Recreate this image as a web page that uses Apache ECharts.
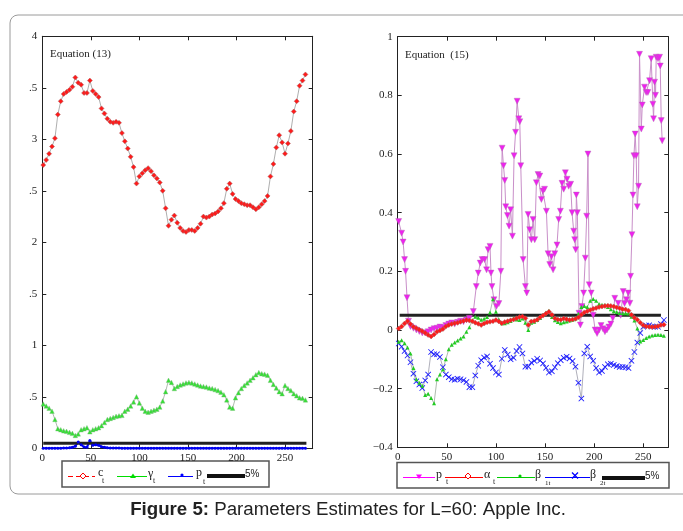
<!DOCTYPE html>
<html>
<head>
<meta charset="utf-8">
<script src="https://cdn.jsdelivr.net/npm/echarts@6/dist/echarts.min.js"></script>
<style>
  html, body { margin: 0; padding: 0; background: #fff; }
  #chart { width: 683px; height: 531px; }
</style>
</head>
<body>
<div id="chart"></div>
<script>
// Observation days shared by the sampled series (t = 1, 4, 7, ..., 271)
const days = [];
for (let d = 1; d <= 271; d += 3) days.push(d);

// Equation (13): c_t, gamma_t, p_t
const cT = [
  2.75, 2.80, 2.86, 2.93, 3.01, 3.24, 3.37, 3.44, 3.46, 3.48,
  3.51, 3.60, 3.55, 3.53, 3.45, 3.45, 3.57, 3.47, 3.44, 3.41,
  3.30, 3.25, 3.20, 3.17, 3.16, 3.17, 3.16, 3.06, 2.98, 2.91,
  2.83, 2.73, 2.57, 2.64, 2.67, 2.70, 2.72, 2.69, 2.65, 2.62,
  2.58, 2.50, 2.33, 2.16, 2.22, 2.26, 2.19, 2.14, 2.11, 2.10,
  2.12, 2.12, 2.11, 2.14, 2.18, 2.25, 2.24, 2.25, 2.27, 2.28,
  2.30, 2.33, 2.38, 2.52, 2.57, 2.47, 2.42, 2.40, 2.38, 2.37,
  2.36, 2.36, 2.34, 2.32, 2.34, 2.37, 2.40, 2.45, 2.64, 2.76,
  2.92, 3.04, 2.97, 2.86, 2.96, 3.08, 3.27, 3.37, 3.52, 3.57,
  3.63
];
const gammaT = [
  0.43, 0.41, 0.39, 0.36, 0.28, 0.19, 0.18, 0.17, 0.165, 0.155,
  0.145, 0.125, 0.14, 0.18, 0.19, 0.20, 0.16, 0.18, 0.19, 0.20,
  0.22, 0.25, 0.28, 0.29, 0.30, 0.31, 0.315, 0.32, 0.36, 0.38,
  0.41, 0.45, 0.50, 0.44, 0.39, 0.36, 0.35, 0.36, 0.37, 0.38,
  0.40, 0.46, 0.55, 0.66, 0.64, 0.58, 0.60, 0.615, 0.625, 0.635,
  0.64, 0.635, 0.625, 0.615, 0.605, 0.60, 0.595, 0.585, 0.58, 0.57,
  0.56, 0.545, 0.52, 0.47, 0.40, 0.39, 0.49, 0.54, 0.58, 0.61,
  0.635, 0.66, 0.685, 0.715, 0.735, 0.725, 0.72, 0.71, 0.66, 0.62,
  0.585, 0.55, 0.53, 0.61, 0.58, 0.56, 0.53, 0.51, 0.49, 0.485,
  0.47
];
const pLeft = [
  0, 0, 0, 0, 0, 0, 0, 0.003, 0.004, 0.006,
  0.01, 0.02, 0.06, 0.035, 0.012, 0.01, 0.075, 0.03, 0.035, 0.03,
  0.015, 0.01, 0.006, 0.004, 0.003, 0.002, 0.002, 0.001, 0, 0,
  0, 0, 0, 0, 0, 0, 0, 0, 0, 0,
  0, 0, 0, 0, 0, 0, 0, 0, 0, 0,
  0, 0, 0, 0, 0, 0, 0, 0, 0, 0,
  0, 0, 0, 0, 0, 0, 0, 0, 0, 0,
  0, 0, 0, 0, 0, 0, 0, 0, 0, 0,
  0, 0, 0, 0, 0, 0, 0, 0, 0, 0,
  0
];

// Equation (15): alpha_t, beta_1t, beta_2t on the shared days, p_t as [day, value]
const alphaT = [
  0.005, 0.012, 0.022, 0.030, 0.020, 0.011, 0.006, 0.001, -0.004, -0.010,
  -0.017, -0.022, -0.015, -0.006, -0.002, 0.003, 0.012, 0.017, 0.020, 0.023,
  0.025, 0.028, 0.031, 0.034, 0.032, 0.030, 0.025, 0.021, 0.017, 0.022,
  0.026, 0.028, 0.030, 0.034, 0.029, 0.023, 0.027, 0.030, 0.033, 0.036,
  0.040, 0.044, 0.046, 0.040, 0.017, 0.029, 0.031, 0.035, 0.043, 0.049,
  0.056, 0.062, 0.052, 0.040, 0.036, 0.035, 0.039, 0.037, 0.034, 0.036,
  0.038, 0.043, 0.052, 0.060, 0.064, 0.068, 0.072, 0.075, 0.078, 0.080,
  0.082, 0.083, 0.082, 0.080, 0.077, 0.074, 0.071, 0.070, 0.066, 0.052,
  0.042, 0.035, 0.025, 0.016, 0.012, 0.011, 0.010, 0.011, 0.013, 0.017,
  0.018
];
const beta1T = [
  -0.04, -0.035, -0.045, -0.06, -0.08, -0.13, -0.168, -0.18, -0.19, -0.222,
  -0.217, -0.232, -0.25, -0.168, -0.152, -0.135, -0.10, -0.066, -0.05, -0.043,
  -0.036, -0.029, -0.022, -0.006, 0.009, 0.032, 0.045, 0.042, 0.035, 0.038,
  0.044, 0.06, 0.105, 0.062, 0.036, 0.023, 0.023, 0.026, 0.031, 0.04,
  0.036, 0.034, 0.039, 0.025, 0.0, 0.025, 0.028, 0.034, 0.041, 0.051,
  0.06, 0.066, 0.044, 0.033, 0.027, 0.023, 0.026, 0.029, 0.032, 0.035,
  0.039, 0.055, 0.078, 0.082, 0.078, 0.100, 0.106, 0.100, 0.089, 0.086,
  0.085, 0.078, 0.071, 0.064, 0.061, 0.058, 0.057, 0.057, 0.056, 0.045,
  0.032, 0.005, -0.039, -0.034, -0.027, -0.022, -0.019, -0.017, -0.016, -0.017,
  -0.02
];
const beta2T = [
  -0.046, -0.057, -0.072, -0.087, -0.11, -0.149, -0.175, -0.186, -0.198, -0.172,
  -0.152, -0.075, -0.083, -0.083, -0.092, -0.127, -0.152, -0.161, -0.168, -0.170,
  -0.166, -0.168, -0.171, -0.177, -0.195, -0.195, -0.155, -0.122, -0.103, -0.094,
  -0.09, -0.115, -0.13, -0.145, -0.152, -0.098, -0.068, -0.084, -0.10, -0.095,
  -0.072, -0.058, -0.08, -0.125, -0.125, -0.111, -0.105, -0.098, -0.104, -0.114,
  -0.129, -0.145, -0.141, -0.127, -0.113, -0.103, -0.095, -0.091, -0.097, -0.106,
  -0.125, -0.18, -0.234, -0.08, -0.057, -0.09, -0.105, -0.13, -0.145, -0.14,
  -0.126, -0.117, -0.115, -0.119, -0.123, -0.126, -0.126, -0.127, -0.13, -0.105,
  -0.075, -0.043, -0.01, 0.011, 0.015, 0.016, 0.012, 0.011, 0.011, 0.02,
  0.034
];
const pRight = [
  [1, 0.37], [4, 0.33], [5.5, 0.30], [7, 0.24], [8, 0.20], [9.5, 0.11], [11, 0.03], [13, 0.012],
  [16, 0.006], [19, 0.0], [22, -0.005], [25, -0.01], [28, -0.01], [31, -0.006], [34, 0.0], [37, 0.004],
  [40, 0.006], [43, 0.01], [46, 0.008], [49, 0.015], [52, 0.02], [55, 0.024], [58, 0.02], [61, 0.026],
  [64, 0.03], [67, 0.028], [70, 0.034], [73, 0.04], [77, 0.063], [80, 0.148], [82, 0.194], [84, 0.228],
  [86, 0.24], [88.5, 0.24], [90.5, 0.205], [92, 0.274], [94, 0.285], [95, 0.194], [96, 0.148], [98, 0.103],
  [100.5, 0.08], [103, 0.09], [105, 0.20], [106.3, 0.62], [107.7, 0.56], [109, 0.51], [110, 0.42], [111.7, 0.39],
  [113.4, 0.354], [115, 0.41], [116.8, 0.32], [118.5, 0.594], [120, 0.674], [121.6, 0.78], [123.3, 0.72], [124.3, 0.71],
  [125.3, 0.56], [127.7, 0.24], [130, 0.148], [131.4, 0.126], [132.8, 0.394], [134.4, 0.342], [136.1, 0.308], [137.8, 0.377],
  [139.5, 0.308], [141.2, 0.502], [142.9, 0.53], [144.7, 0.525], [146.3, 0.445], [147.8, 0.474], [149.5, 0.48], [151.4, 0.405],
  [153.1, 0.26], [154.8, 0.223], [156.5, 0.25], [158.2, 0.205], [159.9, 0.26], [162.2, 0.29], [163.9, 0.377], [165.6, 0.405],
  [167.3, 0.50], [169, 0.48], [170.7, 0.536], [172.4, 0.514], [174.1, 0.49], [176.1, 0.497], [177.5, 0.40], [179.2, 0.337],
  [180.2, 0.308], [181.2, 0.274], [181.9, 0.46], [182.9, 0.40], [184.6, 0.057], [186, 0.017], [187.6, 0.08], [189.3, 0.126],
  [191, 0.245], [192.4, 0.388], [193.7, 0.60], [195, 0.154], [197, 0.126], [199, 0.05], [201, 0.0], [203, -0.012],
  [205, 0.0], [207, 0.015], [209, 0.004], [211, -0.006], [213, 0.0], [215, 0.01], [217, 0.02], [219, 0.04],
  [221, 0.108], [224.5, 0.091], [227, 0.05], [229.6, 0.131], [231, 0.09], [233, 0.103], [234.7, 0.126], [236.4, 0.091],
  [237.1, 0.183], [238.5, 0.325], [239.5, 0.46], [240.5, 0.594], [241.8, 0.668], [242.8, 0.594], [243.9, 0.42], [245.2, 0.49],
  [246.2, 0.94], [248, 0.685], [249, 0.767], [251.3, 0.828], [253, 0.81], [254.7, 0.81], [256.4, 0.85], [258.1, 0.925],
  [259.8, 0.77], [260.5, 0.72], [261.5, 0.845], [262.5, 0.80], [263.2, 0.93], [265, 0.925], [266.6, 0.93], [267.3, 0.90],
  [268.3, 0.714], [269.3, 0.645]
];

// 5% reference level and the day span it is drawn over in each panel
const fivePct = 0.05;
const fivePctSpanLeft = [1, 272];
const fivePctSpanRight = [2, 268];

// Tick values
const xTicks = [0, 50, 100, 150, 200, 250];
const leftYTicks = [0, 0.5, 1, 1.5, 2, 2.5, 3, 3.5, 4];
const rightYTicks = [-0.4, -0.2, 0, 0.2, 0.4, 0.6, 0.8, 1];

const serif = 'Liberation Serif';
const ink = '#222';

function pairs(vals) { return days.map((d, i) => [d, vals[i]]); }
function span(s) { return s.map(d => [d, fivePct]); }

function xAxisOf(grid, max, pos) {
  return {
    type: 'value', gridIndex: grid, min: 0, max: max, position: pos,
    axisLine: { show: true, onZero: false, lineStyle: { color: ink, width: 1 } },
    axisTick: { show: true, inside: true, length: 4, customValues: xTicks, lineStyle: { color: ink } },
    axisLabel: {
      show: pos === 'bottom', customValues: xTicks, margin: 4,
      fontFamily: serif, fontSize: 11, color: ink
    },
    splitLine: { show: false }
  };
}
function yAxisOf(grid, min, max, ticks, pos, fmt) {
  return {
    type: 'value', gridIndex: grid, min: min, max: max, position: pos,
    axisLine: { show: true, onZero: false, lineStyle: { color: ink, width: 1 } },
    axisTick: { show: true, inside: true, length: 4, customValues: ticks, lineStyle: { color: ink } },
    axisLabel: {
      show: pos === 'left', customValues: ticks, margin: 5, formatter: fmt,
      fontFamily: serif, fontSize: 11, color: ink
    },
    splitLine: { show: false }
  };
}

const xMarkPath = 'path://M0,1L1,0L5,4L9,0L10,1L6,5L10,9L9,10L5,6L1,10L0,9L4,5Z';

function lineSeries(xi, yi, data, opts) {
  return Object.assign({
    type: 'line', xAxisIndex: xi, yAxisIndex: yi, data: data,
    showSymbol: true, showAllSymbol: true, silent: true,
    emphasis: { disabled: true }, animation: false
  }, opts);
}

// Legend pieces drawn as plain shapes
function seg(x1, y1, x2, y2, color, width, dash) {
  return { type: 'line', silent: true, shape: { x1, y1, x2, y2 },
    style: { stroke: color, lineWidth: width, lineDash: dash || null } };
}
function txt(x, y, s, size, font) {
  return { type: 'text', silent: true,
    style: { x, y, text: s, fill: ink, font: size + 'px "' + (font || serif) + '"', verticalAlign: 'middle' } };
}
function poly(points, fill, stroke) {
  return { type: 'polygon', silent: true, shape: { points },
    style: { fill: fill, stroke: stroke || null, lineWidth: 1 } };
}
function dot(cx, cy, r, color) {
  return { type: 'circle', silent: true, shape: { cx, cy, r }, style: { fill: color } };
}

const graphics = [
  // outer frame
  { type: 'rect', silent: true, shape: { x: 10, y: 15, width: 690, height: 479, r: 8 },
    style: { fill: 'none', stroke: '#9a9a9a', lineWidth: 1 } },
  txt(50, 54, 'Equation (13)', 11),
  txt(405, 55, 'Equation  (15)', 11),

  // left legend
  { type: 'rect', silent: true, shape: { x: 62, y: 461, width: 207, height: 26 },
    style: { fill: '#fff', stroke: '#555', lineWidth: 1.5 } },
  seg(68, 476.5, 95, 476.5, '#ff0000', 1, [5, 3]),
  poly([[83, 473], [86, 476], [83, 479], [80, 476]], '#fff', '#ff0000'),
  txt(98, 473, 'c', 12), txt(102, 481, 't', 8),
  seg(117, 476.5, 147, 476.5, '#00dd00', 1),
  poly([[133, 473.5], [136, 478], [130, 478]], '#00dd00'),
  txt(148, 474, 'γ', 12), txt(153, 481, 't', 8),
  seg(168, 476.5, 193, 476.5, '#0000ff', 1),
  dot(182, 475, 1.6, '#0000ff'),
  txt(196, 473, 'p', 12), txt(203, 482, 't', 8),
  seg(207, 476, 245, 476, '#111', 4),
  txt(245, 474, '5%', 10, 'Liberation Sans'),

  // right legend
  { type: 'rect', silent: true, shape: { x: 397, y: 462.5, width: 272, height: 25.5 },
    style: { fill: '#fff', stroke: '#555', lineWidth: 1.5 } },
  seg(403, 477.5, 435, 477.5, '#ff00ff', 1),
  poly([[416, 474.5], [422, 474.5], [419, 479]], '#ff00ff'),
  txt(436, 475, 'p', 12), txt(446, 482, 't', 8),
  seg(445, 477.5, 483, 477.5, '#ff0000', 1),
  poly([[468, 473], [471, 476], [468, 479], [465, 476]], '#fff', '#ff0000'),
  txt(484, 475, 'α', 12), txt(493, 482, 't', 8),
  seg(497, 477.5, 535, 477.5, '#00cc00', 1),
  dot(520, 476, 1.6, '#00cc00'),
  txt(535, 475, 'β', 12), txt(545, 483, '1t', 7),
  seg(545, 477.5, 590, 477.5, '#0000ff', 1),
  seg(572, 472.5, 578, 478.5, '#0000ff', 1.2), seg(578, 472.5, 572, 478.5, '#0000ff', 1.2),
  txt(590, 475, 'β', 12), txt(600, 483, '2t', 7),
  seg(602, 478, 645, 478, '#111', 4),
  txt(645, 476, '5%', 10, 'Liberation Sans'),

  // caption
  { type: 'text', silent: true,
    style: {
      x: 348, y: 510, align: 'center', verticalAlign: 'middle',
      text: '{b|Figure 5:} Parameters Estimates for L=60: Apple Inc.',
      font: '18.7px "Liberation Sans"', fill: '#222',
      rich: { b: { font: 'bold 18.7px "Liberation Sans"', fill: '#222' } }
    } }
];

const chart = echarts.init(document.getElementById('chart'), null, { renderer: 'canvas' });
chart.setOption({
  backgroundColor: '#fff',
  animation: false,
  grid: [
    { left: 42.3, top: 36.3, width: 270.4, height: 412 },
    { left: 397.7, top: 36.7, width: 270.6, height: 410.6 }
  ],
  xAxis: [
    xAxisOf(0, 278.5, 'bottom'), xAxisOf(0, 278.5, 'top'),
    xAxisOf(1, 275.5, 'bottom'), xAxisOf(1, 275.5, 'top')
  ],
  yAxis: [
    yAxisOf(0, 0, 4, leftYTicks, 'left', v => (Number.isInteger(v) ? String(v) : '.5')),
    yAxisOf(0, 0, 4, leftYTicks, 'right'),
    yAxisOf(1, -0.4, 1, rightYTicks, 'left',
      v => (v < 0 ? '\u2212' + Math.abs(v).toFixed(1) : (v === 0 || v === 1 ? String(v) : v.toFixed(1)))),
    yAxisOf(1, -0.4, 1, rightYTicks, 'right')
  ],
  series: [
    // Equation (13)
    lineSeries(0, 0, pairs(gammaT), {
      symbol: 'triangle', symbolSize: 4.5,
      lineStyle: { color: '#9aa89a', width: 0.8 },
      itemStyle: { color: '#33e033', borderColor: '#7ab87a', borderWidth: 0.4 }
    }),
    lineSeries(0, 0, pairs(pLeft), {
      symbol: 'circle', symbolSize: 3,
      lineStyle: { color: '#0000ff', width: 2 },
      itemStyle: { color: '#0000ee' }
    }),
    lineSeries(0, 0, pairs(cT), {
      symbol: 'diamond', symbolSize: 5,
      lineStyle: { color: '#999', width: 0.8 },
      itemStyle: { color: '#ff1a1a', borderColor: '#a86060', borderWidth: 0.5 }
    }),
    lineSeries(0, 0, span(fivePctSpanLeft), {
      symbol: 'none', lineStyle: { color: '#222', width: 3 }
    }),

    // Equation (15)
    lineSeries(2, 2, pRight, {
      symbol: 'triangle', symbolRotate: 180, symbolSize: 6,
      lineStyle: { color: '#c98fc9', width: 1 },
      itemStyle: { color: '#ee22ee', borderColor: '#b070b0', borderWidth: 0.4 }
    }),
    lineSeries(2, 2, pairs(beta2T), {
      symbol: xMarkPath, symbolSize: 6,
      lineStyle: { color: '#9a9aa8', width: 0.8 },
      itemStyle: { color: '#1a1aff' }
    }),
    lineSeries(2, 2, pairs(beta1T), {
      symbol: 'triangle', symbolSize: 4,
      lineStyle: { color: '#9aa89a', width: 0.8 },
      itemStyle: { color: '#22cc22' }
    }),
    lineSeries(2, 2, pairs(alphaT), {
      symbol: 'diamond', symbolSize: 5,
      lineStyle: { color: '#a08080', width: 0.8 },
      itemStyle: { color: '#ff1a1a', borderColor: '#a86060', borderWidth: 0.5 }
    }),
    lineSeries(2, 2, span(fivePctSpanRight), {
      symbol: 'none', lineStyle: { color: '#222', width: 3 }
    })
  ],
  graphic: graphics
});
</script>
</body>
</html>
